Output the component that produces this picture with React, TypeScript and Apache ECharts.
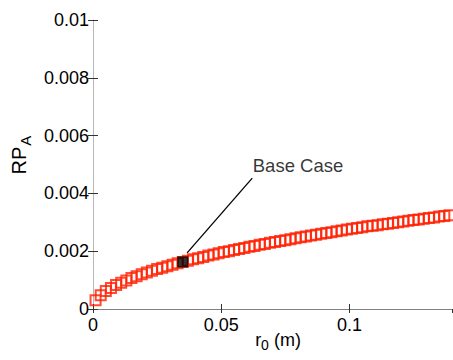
import React, { useEffect, useRef } from "react";
import * as echarts from "echarts";

// r0 (m) sample positions and RP_A values
const r0Values: number[] = [
  0.001, 0.003, 0.005, 0.007, 0.009, 0.011, 0.013, 0.015, 0.017, 0.019,
  0.021, 0.023, 0.025, 0.027, 0.029, 0.031, 0.033, 0.035, 0.037, 0.039,
  0.041, 0.043, 0.045, 0.047, 0.049, 0.051, 0.053, 0.055, 0.057, 0.059,
  0.061, 0.063, 0.065, 0.067, 0.069, 0.071, 0.073, 0.075, 0.077, 0.079,
  0.081, 0.083, 0.085, 0.087, 0.089, 0.091, 0.093, 0.095, 0.097, 0.099,
  0.101, 0.103, 0.105, 0.107, 0.109, 0.111, 0.113, 0.115, 0.117, 0.119,
  0.121, 0.123, 0.125, 0.127, 0.129, 0.131, 0.133, 0.135, 0.137, 0.139,
];
const rpaValues: number[] = [
  0.0003, 0.00048, 0.00062, 0.00073, 0.00083, 0.00091, 0.00099, 0.00107, 0.00113, 0.0012,
  0.00126, 0.00132, 0.00138, 0.00143, 0.00148, 0.00153, 0.00158, 0.00163, 0.00167, 0.00172,
  0.00176, 0.0018, 0.00185, 0.00189, 0.00193, 0.00197, 0.002, 0.00204, 0.00208, 0.00211,
  0.00215, 0.00218, 0.00222, 0.00225, 0.00229, 0.00232, 0.00235, 0.00238, 0.00241, 0.00245,
  0.00248, 0.00251, 0.00254, 0.00257, 0.0026, 0.00263, 0.00266, 0.00269, 0.00272, 0.00275,
  0.00278, 0.0028, 0.00283, 0.00286, 0.00288, 0.0029, 0.00293, 0.00295, 0.00298, 0.003,
  0.00303, 0.00305, 0.00308, 0.0031, 0.00312, 0.00315, 0.00317, 0.0032, 0.00322, 0.00324,
];
const baseCase: [number, number] = [0.035, 0.00163];
const annotationText = "Base Case";
const leaderStart: [number, number] = [0.0367, 0.00194];
const leaderEnd: [number, number] = [0.0621, 0.00453];
const labelAnchor: [number, number] = [0.0623, 0.00495];

const xMin = 0;
const xMax = 0.14;
const xInterval = 0.05;
const yMin = 0;
const yMax = 0.01;
const yInterval = 0.002;

const FONT = "'Liberation Sans', Arial, Helvetica, sans-serif";

export default function App() {
  const ref = useRef<HTMLDivElement>(null);
  useEffect(() => {
    if (!ref.current) return;
    const chart = echarts.init(ref.current, undefined, { renderer: "svg" });
    const fmtX = (v: number) => {
      const r = Math.round(v / xInterval);
      if (Math.abs(v - r * xInterval) > 1e-9) return "";
      return String(+v.toFixed(2));
    };
    const fmtY = (v: number) => String(+v.toFixed(3));
    const axisLineGray = "#808080";
    chart.setOption({
      animation: false,
      backgroundColor: "#ffffff",
      grid: { left: 93, right: 1, top: 20, bottom: 51, containLabel: false },
      xAxis: [
        {
          type: "value",
          min: xMin,
          max: xMax,
          interval: xInterval,
          position: "bottom",
          axisLine: { show: true, lineStyle: { color: axisLineGray, width: 1 } },
          axisTick: { show: true, inside: true, length: 5, lineStyle: { color: "#333" } },
          axisLabel: {
            formatter: fmtX,
            showMaxLabel: false,
            margin: 7,
            color: "#000",
            fontSize: 18,
            fontFamily: FONT,
          },
          splitLine: { show: false },
        },
        {
          type: "value",
          min: xMin,
          max: xMax,
          interval: xInterval,
          position: "top",
          axisLine: { show: true, lineStyle: { color: axisLineGray, width: 1 } },
          axisTick: { show: true, inside: true, length: 4, lineStyle: { color: "#333" } },
          axisLabel: { show: false },
          splitLine: { show: false },
        },
      ],
      yAxis: [
        {
          type: "value",
          min: yMin,
          max: yMax,
          interval: yInterval,
          position: "left",
          axisLine: { show: true, lineStyle: { color: "#b8b8b8", width: 1 } },
          axisTick: { show: true, inside: true, length: 5, lineStyle: { color: "#333" } },
          axisLabel: {
            formatter: fmtY,
            margin: 4,
            color: "#000",
            fontSize: 18,
            fontFamily: FONT,
          },
          splitLine: { show: false },
        },
        {
          type: "value",
          min: yMin,
          max: yMax,
          interval: yInterval,
          position: "right",
          axisLine: { show: false },
          axisTick: { show: true, inside: true, length: 5, lineStyle: { color: "#333" } },
          axisLabel: { show: false },
          splitLine: { show: false },
        },
      ],
      series: [
        {
          type: "scatter",
          name: "RPA",
          data: r0Values.map((r, i) => [r, rpaValues[i]]),
          symbol: "rect",
          symbolSize: 10,
          itemStyle: { color: "rgba(0,0,0,0)", borderColor: "#ff1e00", borderWidth: 2 },
          silent: true,
          z: 2,
        },
        {
          type: "scatter",
          name: "Base Case",
          data: [baseCase],
          symbol: "rect",
          symbolSize: 11,
          itemStyle: { color: "#000000" },
          silent: true,
          z: 3,
        },
        {
          type: "line",
          name: "leader",
          data: [leaderStart, leaderEnd],
          symbol: "none",
          lineStyle: { color: "#000", width: 1.3 },
          silent: true,
          z: 4,
        },
        {
          type: "scatter",
          name: "label",
          data: [labelAnchor],
          symbolSize: 0,
          label: {
            show: true,
            position: "right",
            distance: 0,
            formatter: annotationText,
            color: "#000",
            fontSize: 18.5,
            fontFamily: FONT,
          },
          silent: true,
          z: 5,
        },
      ],
      graphic: [
        {
          type: "text",
          x: 19,
          y: 155,
          rotation: Math.PI / 2,
          style: {
            text: "{m|RP}{s|A}",
            align: "center",
            verticalAlign: "middle",
            fill: "#000",
            rich: {
              m: { fontSize: 20, fontFamily: FONT, fill: "#000" },
              s: { fontSize: 15, fontFamily: FONT, fill: "#000", padding: [12, 0, 0, 1] },
            },
          },
        },
        {
          type: "text",
          x: 278,
          y: 340,
          style: {
            text: "{m|r}{s|0}{m| (m)}",
            align: "center",
            verticalAlign: "middle",
            fill: "#000",
            rich: {
              m: { fontSize: 18, fontFamily: FONT, fill: "#000" },
              s: { fontSize: 14, fontFamily: FONT, fill: "#000", padding: [10, 0, 0, 0] },
            },
          },
        },
      ],
    });
    return () => chart.dispose();
  }, []);
  return (
    <div
      ref={ref}
      style={{ position: "fixed", left: 0, top: 0, width: 453, height: 360, background: "#fff" }}
    />
  );
}
